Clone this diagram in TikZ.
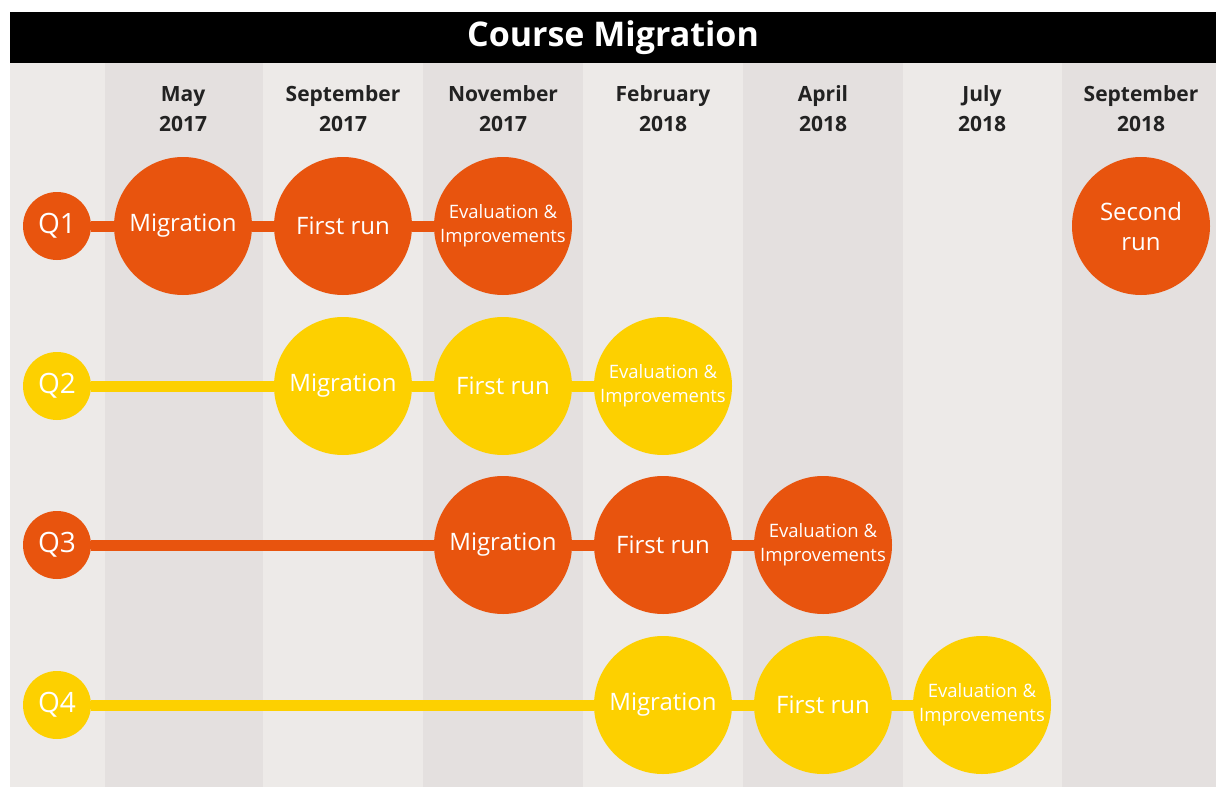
\documentclass[tikz,border=0pt]{standalone}
\usepackage{fontspec}
\setmainfont{Open Sans}
\usetikzlibrary{positioning}
\definecolor{migorange}{HTML}{E8540E}
\definecolor{migyellow}{HTML}{FDD000}
\definecolor{bandlight}{HTML}{EDEAE8}
\definecolor{banddark}{HTML}{E4E0DF}
\definecolor{headgray}{HTML}{222222}
\tikzset{
  phase/.style={circle, minimum size=138pt, inner sep=0pt, align=center, text=white, font=\fontsize{24}{30}\selectfont},
  evalph/.style={phase, font=\fontsize{18.5}{24}\selectfont},
  qlab/.style={circle, minimum size=68pt, inner sep=0pt, text=white, font=\fontsize{28}{30}\selectfont},
  month/.style={align=center, text=headgray, font=\fontsize{21}{30}\selectfont\bfseries},
  track/.style={line width=11pt},
}
\begin{document}
\begin{tikzpicture}[x=1pt, y=-1pt]
  \useasboundingbox (0,0) rectangle (1216,787);
  % columns
  \fill[bandlight] (10,63) rectangle (1216,787);
  \foreach \xa/\xb in {105/263, 423/583, 743/903, 1062/1216}
    \fill[banddark] (\xa,63) rectangle (\xb,787);
  % title
  \fill[black] (10,12) rectangle (1216,63);
  \node[text=white, font=\fontsize{34}{36}\selectfont\bfseries] (title) at (613,38) {Course Migration};

  \node[month] (may17) at (183,109) {May\\2017};
  \node[month] (sep17) at (343,109) {September\\2017};
  \node[month] (nov17) at (503,109) {November\\2017};
  \node[month] (feb18) at (663,109) {February\\2018};
  \node[month] (apr18) at (823,109) {April\\2018};
  \node[month] (jul18) at (982,109) {July\\2018};
  \node[month] (sep18) at (1141,109) {September\\2018};

  % Q1
  \node[qlab, fill=migorange] (q1) at (57,226) {Q1};
  \node[phase, fill=migorange] (mig1) at (183,226) {Migration};
  \node[phase, fill=migorange] (run1) at (343,226) {First run};
  \node[evalph, fill=migorange] (eval1) at (503,226) {Evaluation \&\\Improvements};
  \node[phase, fill=migorange] (sec1) at (1141,226) {Second\\run};
  \draw[track, migorange] (q1) -- (mig1);
  \draw[track, migorange] (mig1) -- (run1);
  \draw[track, migorange] (run1) -- (eval1);

  % Q2
  \node[qlab, fill=migyellow] (q2) at (57,386) {Q2};
  \node[phase, fill=migyellow] (mig2) at (343,386) {Migration};
  \node[phase, fill=migyellow] (run2) at (503,386) {First run};
  \node[evalph, fill=migyellow] (eval2) at (663,386) {Evaluation \&\\Improvements};
  \draw[track, migyellow] (q2) -- (mig2);
  \draw[track, migyellow] (mig2) -- (run2);
  \draw[track, migyellow] (run2) -- (eval2);

  % Q3
  \node[qlab, fill=migorange] (q3) at (57,545) {Q3};
  \node[phase, fill=migorange] (mig3) at (503,545) {Migration};
  \node[phase, fill=migorange] (run3) at (663,545) {First run};
  \node[evalph, fill=migorange] (eval3) at (823,545) {Evaluation \&\\Improvements};
  \draw[track, migorange] (q3) -- (mig3);
  \draw[track, migorange] (mig3) -- (run3);
  \draw[track, migorange] (run3) -- (eval3);

  % Q4
  \node[qlab, fill=migyellow] (q4) at (57,705) {Q4};
  \node[phase, fill=migyellow] (mig4) at (663,705) {Migration};
  \node[phase, fill=migyellow] (run4) at (823,705) {First run};
  \node[evalph, fill=migyellow] (eval4) at (982,705) {Evaluation \&\\Improvements};
  \draw[track, migyellow] (q4) -- (mig4);
  \draw[track, migyellow] (mig4) -- (run4);
  \draw[track, migyellow] (run4) -- (eval4);
\end{tikzpicture}
\end{document}
